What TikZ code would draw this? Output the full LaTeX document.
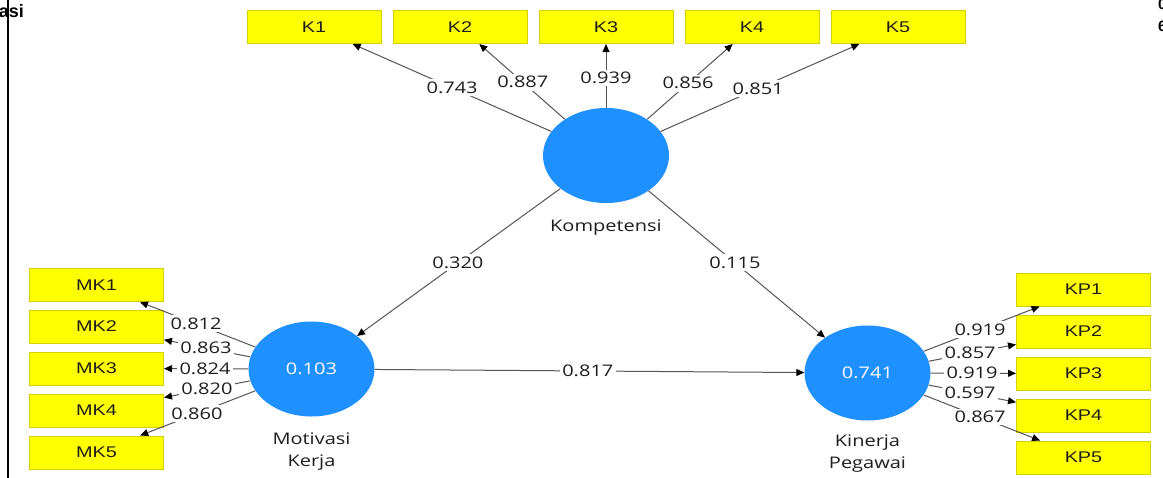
\documentclass[tikz,border=0pt]{standalone}
\usepackage{fontspec}
\usetikzlibrary{shapes.geometric,arrows.meta,calc}
\newfontfamily\lblfont[FakeStretch=1.25]{Open Sans}
\newfontfamily\boxfont[FakeStretch=1.28]{Liberation Sans}
\newfontfamily\fragfont{Liberation Sans}
\definecolor{boxyellow}{HTML}{FFFF00}
\definecolor{boxedge}{HTML}{D2D200}
\definecolor{lvblue}{HTML}{1E90FF}
\definecolor{edgegray}{HTML}{555555}
\definecolor{txt}{HTML}{1E1E1E}
\begin{document}
\begin{tikzpicture}[x=1pt,y=-1pt,
 ind/.style={draw=boxedge, line width=1pt, fill=boxyellow, minimum width=134pt, minimum height=33pt, inner sep=0pt, font=\boxfont\fontsize{15.5}{18}\selectfont, text=txt},
 lv/.style={ellipse, fill=lvblue, minimum width=126pt, minimum height=95pt, inner sep=0pt, font=\lblfont\fontsize{16}{19}\selectfont, text=white},
 lvname/.style={font=\lblfont\fontsize{16}{22}\selectfont, text=txt, align=center},
 conn/.style={draw=edgegray, line width=1pt, -{Triangle[length=8pt,width=7pt,color=black]}},
 coef/.style={fill=white, inner sep=2.5pt, font=\lblfont\fontsize{16}{19}\selectfont, text=txt},
 frag/.style={font=\fragfont\bfseries\fontsize{18}{20}\selectfont, inner sep=0pt},
]
\useasboundingbox (0,0) rectangle (1163,477);
\fill[white] (0,0) rectangle (1163,477);

% page fragments
\draw[line width=2pt] (8,-2) -- (8,479);
\node[frag, anchor=base east] (fa) at (24,17) {asi};
\node[frag, anchor=base west, font=\fragfont\bfseries\fontsize{15}{18}\selectfont] (fb) at (1158,9) {0};
\node[frag, anchor=base west, font=\fragfont\bfseries\fontsize{15}{18}\selectfont] (fc) at (1158,31) {6};

% latent variables
\node[lv] (kom) at (606,155.5) {};
\node[lv] (mot) at (311.5,369) {0.103};
\node[lv] (kin) at (867.5,373) {0.741};
\node[lvname, anchor=base] (komn) at (606,231) {Kompetensi};
\node[lvname, anchor=base] (motn) at (311.5,466) {Motivasi\\Kerja};
\node[lvname, anchor=base] (kinn) at (867.5,468) {Kinerja\\Pegawai};

% indicators
\node[ind] (k1) at (314,27) {K1};
\node[ind] (k2) at (460,27) {K2};
\node[ind] (k3) at (606,27) {K3};
\node[ind] (k4) at (752,27) {K4};
\node[ind] (k5) at (898,27) {K5};
\node[ind] (mk1) at (96.5,285) {MK1};
\node[ind] (mk2) at (96.5,326.5) {MK2};
\node[ind] (mk3) at (96.5,368.5) {MK3};
\node[ind] (mk4) at (96.5,410.5) {MK4};
\node[ind] (mk5) at (96.5,452.5) {MK5};
\node[ind] (kp1) at (1083.5,289.5) {KP1};
\node[ind] (kp2) at (1083.5,331.5) {KP2};
\node[ind] (kp3) at (1083.5,373.5) {KP3};
\node[ind] (kp4) at (1083.5,415.5) {KP4};
\node[ind] (kp5) at (1083.5,457.5) {KP5};

% connectors
\foreach \t in {k1,k2,k3,k4,k5} \draw[conn] (kom) -- (\t);
\foreach \t in {mk1,mk2,mk3,mk4,mk5} \draw[conn] (mot) -- (\t);
\foreach \t in {kp1,kp2,kp3,kp4,kp5} \draw[conn] (kin) -- (\t);
\draw[conn] (kom) -- (mot);
\draw[conn] (kom) -- (kin);
\draw[conn] (mot) -- (kin);

% coefficients
\node[coef] (c1) at ($(kom)!0.527!(k1)$) {0.743};
\node[coef] (c2) at ($(kom)!0.570!(k2)$) {0.887};
\node[coef] (c3) at ($(kom)!0.603!(k3)$) {0.939};
\node[coef] (c4) at ($(kom)!0.562!(k4)$) {0.856};
\node[coef] (c5) at ($(kom)!0.521!(k5)$) {0.851};
\node[coef] (c6) at ($(kom)!0.503!(mot)$) {0.320};
\node[coef] (c7) at ($(kom)!0.493!(kin)$) {0.115};
\node[coef] (c8) at ($(mot)!0.497!(kin)$) {0.817};
\node[coef] (m1) at ($(mot)!0.537!(mk1)$) {0.812};
\node[coef] (m2) at ($(mot)!0.491!(mk2)$) {0.863};
\node[coef] (m3) at ($(mot)!0.495!(mk3)$) {0.824};
\node[coef] (m4) at ($(mot)!0.486!(mk4)$) {0.820};
\node[coef] (m5) at ($(mot)!0.533!(mk5)$) {0.860};
\node[coef] (p1) at ($(kin)!0.521!(kp1)$) {0.919};
\node[coef] (p2) at ($(kin)!0.475!(kp2)$) {0.857};
\node[coef] (p3) at ($(kin)!0.484!(kp3)$) {0.919};
\node[coef] (p4) at ($(kin)!0.475!(kp4)$) {0.597};
\node[coef] (p5) at ($(kin)!0.521!(kp5)$) {0.867};
\end{tikzpicture}
\end{document}
